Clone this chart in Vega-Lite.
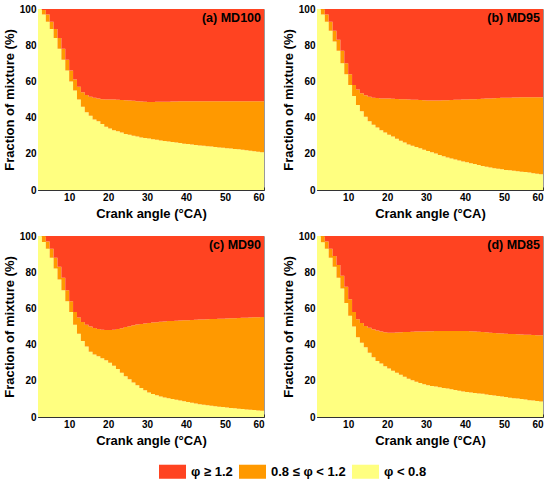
{
"$schema": "https://vega.github.io/schema/vega-lite/v6.json",
"padding": {"left": 3, "top": 3, "right": 5, "bottom": 5},
"background": "white",
"data": {"values": [
{"p":"(a) MD100","ca":2,"l":100,"m":0,"r":0},
{"p":"(a) MD100","ca":3,"l":97,"m":2.5,"r":0.5},
{"p":"(a) MD100","ca":4,"l":93,"m":4,"r":3},
{"p":"(a) MD100","ca":5,"l":89,"m":4,"r":7},
{"p":"(a) MD100","ca":6,"l":84,"m":5,"r":11},
{"p":"(a) MD100","ca":7,"l":78,"m":6,"r":16},
{"p":"(a) MD100","ca":8,"l":72,"m":6,"r":22},
{"p":"(a) MD100","ca":9,"l":66,"m":6,"r":28},
{"p":"(a) MD100","ca":10,"l":60,"m":6,"r":34},
{"p":"(a) MD100","ca":11,"l":55,"m":6,"r":39},
{"p":"(a) MD100","ca":12,"l":50,"m":7,"r":43},
{"p":"(a) MD100","ca":13,"l":46,"m":8,"r":46},
{"p":"(a) MD100","ca":14,"l":43,"m":9.5,"r":47.5},
{"p":"(a) MD100","ca":15,"l":41,"m":10.5,"r":48.5},
{"p":"(a) MD100","ca":16,"l":39,"m":12,"r":49},
{"p":"(a) MD100","ca":17,"l":38,"m":12.5,"r":49.5},
{"p":"(a) MD100","ca":18,"l":36.5,"m":13.7,"r":49.8},
{"p":"(a) MD100","ca":19,"l":35,"m":15,"r":50},
{"p":"(a) MD100","ca":20,"l":34,"m":16,"r":50},
{"p":"(a) MD100","ca":21,"l":33,"m":17,"r":50},
{"p":"(a) MD100","ca":22,"l":32.5,"m":17.3,"r":50.2},
{"p":"(a) MD100","ca":23,"l":31.8,"m":17.9,"r":50.3},
{"p":"(a) MD100","ca":24,"l":31,"m":18.6,"r":50.4},
{"p":"(a) MD100","ca":25,"l":30.5,"m":19,"r":50.5},
{"p":"(a) MD100","ca":26,"l":30,"m":19.3,"r":50.7},
{"p":"(a) MD100","ca":27,"l":29.5,"m":19.6,"r":50.9},
{"p":"(a) MD100","ca":28,"l":29,"m":19.9,"r":51.1},
{"p":"(a) MD100","ca":29,"l":28.7,"m":20,"r":51.3},
{"p":"(a) MD100","ca":30,"l":28.4,"m":20.2,"r":51.4},
{"p":"(a) MD100","ca":31,"l":28,"m":20.6,"r":51.4},
{"p":"(a) MD100","ca":32,"l":27.7,"m":21,"r":51.3},
{"p":"(a) MD100","ca":33,"l":27.4,"m":21.3,"r":51.3},
{"p":"(a) MD100","ca":34,"l":27.1,"m":21.7,"r":51.2},
{"p":"(a) MD100","ca":35,"l":26.8,"m":22,"r":51.2},
{"p":"(a) MD100","ca":36,"l":26.5,"m":22.4,"r":51.1},
{"p":"(a) MD100","ca":37,"l":26.2,"m":22.7,"r":51.1},
{"p":"(a) MD100","ca":38,"l":25.9,"m":23.1,"r":51},
{"p":"(a) MD100","ca":39,"l":25.6,"m":23.4,"r":51},
{"p":"(a) MD100","ca":40,"l":25.4,"m":23.6,"r":51},
{"p":"(a) MD100","ca":41,"l":25.1,"m":23.9,"r":51},
{"p":"(a) MD100","ca":42,"l":24.9,"m":24.1,"r":51},
{"p":"(a) MD100","ca":43,"l":24.6,"m":24.4,"r":51},
{"p":"(a) MD100","ca":44,"l":24.4,"m":24.6,"r":51},
{"p":"(a) MD100","ca":45,"l":24.2,"m":24.8,"r":51},
{"p":"(a) MD100","ca":46,"l":24,"m":25,"r":51},
{"p":"(a) MD100","ca":47,"l":23.8,"m":25.2,"r":51},
{"p":"(a) MD100","ca":48,"l":23.5,"m":25.5,"r":51},
{"p":"(a) MD100","ca":49,"l":23.3,"m":25.7,"r":51},
{"p":"(a) MD100","ca":50,"l":23.1,"m":25.9,"r":51},
{"p":"(a) MD100","ca":51,"l":22.9,"m":26.1,"r":51},
{"p":"(a) MD100","ca":52,"l":22.7,"m":26.3,"r":51},
{"p":"(a) MD100","ca":53,"l":22.5,"m":26.5,"r":51},
{"p":"(a) MD100","ca":54,"l":22.2,"m":26.8,"r":51},
{"p":"(a) MD100","ca":55,"l":22,"m":27,"r":51},
{"p":"(a) MD100","ca":56,"l":21.7,"m":27.3,"r":51},
{"p":"(a) MD100","ca":57,"l":21.4,"m":27.6,"r":51},
{"p":"(a) MD100","ca":58,"l":21.1,"m":27.9,"r":51},
{"p":"(a) MD100","ca":59,"l":20.8,"m":28.2,"r":51},
{"p":"(a) MD100","ca":60,"l":20.5,"m":28.5,"r":51},
{"p":"(b) MD95","ca":2,"l":100,"m":0,"r":0},
{"p":"(b) MD95","ca":3,"l":97,"m":3,"r":0},
{"p":"(b) MD95","ca":4,"l":93,"m":4,"r":3},
{"p":"(b) MD95","ca":5,"l":88,"m":5,"r":7},
{"p":"(b) MD95","ca":6,"l":82,"m":6,"r":12},
{"p":"(b) MD95","ca":7,"l":77,"m":6,"r":17},
{"p":"(b) MD95","ca":8,"l":70,"m":7,"r":23},
{"p":"(b) MD95","ca":9,"l":64,"m":6,"r":30},
{"p":"(b) MD95","ca":10,"l":58,"m":6,"r":36},
{"p":"(b) MD95","ca":11,"l":52,"m":6,"r":42},
{"p":"(b) MD95","ca":12,"l":47,"m":8.5,"r":44.5},
{"p":"(b) MD95","ca":13,"l":43.5,"m":10,"r":46.5},
{"p":"(b) MD95","ca":14,"l":40.5,"m":11.8,"r":47.7},
{"p":"(b) MD95","ca":15,"l":38,"m":13.5,"r":48.5},
{"p":"(b) MD95","ca":16,"l":36,"m":15,"r":49},
{"p":"(b) MD95","ca":17,"l":34.5,"m":16.3,"r":49.2},
{"p":"(b) MD95","ca":18,"l":33,"m":17.6,"r":49.4},
{"p":"(b) MD95","ca":19,"l":31.8,"m":18.7,"r":49.5},
{"p":"(b) MD95","ca":20,"l":30.5,"m":20,"r":49.5},
{"p":"(b) MD95","ca":21,"l":29.5,"m":20.9,"r":49.6},
{"p":"(b) MD95","ca":22,"l":28.3,"m":22,"r":49.7},
{"p":"(b) MD95","ca":23,"l":27.2,"m":23,"r":49.8},
{"p":"(b) MD95","ca":24,"l":26.2,"m":23.9,"r":49.9},
{"p":"(b) MD95","ca":25,"l":25.2,"m":24.8,"r":50},
{"p":"(b) MD95","ca":26,"l":24.5,"m":25.4,"r":50.1},
{"p":"(b) MD95","ca":27,"l":23.7,"m":26.1,"r":50.2},
{"p":"(b) MD95","ca":28,"l":23,"m":26.7,"r":50.3},
{"p":"(b) MD95","ca":29,"l":22.3,"m":27.3,"r":50.4},
{"p":"(b) MD95","ca":30,"l":21.5,"m":28,"r":50.5},
{"p":"(b) MD95","ca":31,"l":20.8,"m":28.7,"r":50.5},
{"p":"(b) MD95","ca":32,"l":20.1,"m":29.4,"r":50.5},
{"p":"(b) MD95","ca":33,"l":19.4,"m":30.1,"r":50.5},
{"p":"(b) MD95","ca":34,"l":18.7,"m":30.9,"r":50.4},
{"p":"(b) MD95","ca":35,"l":18,"m":31.6,"r":50.4},
{"p":"(b) MD95","ca":36,"l":17.4,"m":32.3,"r":50.3},
{"p":"(b) MD95","ca":37,"l":16.8,"m":33,"r":50.2},
{"p":"(b) MD95","ca":38,"l":16.3,"m":33.6,"r":50.1},
{"p":"(b) MD95","ca":39,"l":15.8,"m":34.2,"r":50},
{"p":"(b) MD95","ca":40,"l":15.3,"m":34.7,"r":50},
{"p":"(b) MD95","ca":41,"l":14.8,"m":35.3,"r":49.9},
{"p":"(b) MD95","ca":42,"l":14.3,"m":35.9,"r":49.8},
{"p":"(b) MD95","ca":43,"l":13.8,"m":36.5,"r":49.7},
{"p":"(b) MD95","ca":44,"l":13.3,"m":37.1,"r":49.6},
{"p":"(b) MD95","ca":45,"l":12.8,"m":37.7,"r":49.5},
{"p":"(b) MD95","ca":46,"l":12.4,"m":38.2,"r":49.4},
{"p":"(b) MD95","ca":47,"l":12,"m":38.7,"r":49.3},
{"p":"(b) MD95","ca":48,"l":11.7,"m":39.1,"r":49.2},
{"p":"(b) MD95","ca":49,"l":11.4,"m":39.5,"r":49.1},
{"p":"(b) MD95","ca":50,"l":11.1,"m":39.9,"r":49},
{"p":"(b) MD95","ca":51,"l":10.9,"m":40.1,"r":49},
{"p":"(b) MD95","ca":52,"l":10.6,"m":40.5,"r":48.9},
{"p":"(b) MD95","ca":53,"l":10.4,"m":40.7,"r":48.9},
{"p":"(b) MD95","ca":54,"l":10.1,"m":41.1,"r":48.8},
{"p":"(b) MD95","ca":55,"l":9.9,"m":41.3,"r":48.8},
{"p":"(b) MD95","ca":56,"l":9.6,"m":41.6,"r":48.8},
{"p":"(b) MD95","ca":57,"l":9.3,"m":42,"r":48.7},
{"p":"(b) MD95","ca":58,"l":9,"m":42.3,"r":48.7},
{"p":"(b) MD95","ca":59,"l":8.7,"m":42.6,"r":48.7},
{"p":"(b) MD95","ca":60,"l":8.4,"m":42.9,"r":48.7},
{"p":"(c) MD90","ca":2,"l":100,"m":0,"r":0},
{"p":"(c) MD90","ca":3,"l":96.7,"m":3.3,"r":0},
{"p":"(c) MD90","ca":4,"l":93,"m":4,"r":3},
{"p":"(c) MD90","ca":5,"l":88,"m":5,"r":7},
{"p":"(c) MD90","ca":6,"l":82,"m":6,"r":12},
{"p":"(c) MD90","ca":7,"l":76,"m":7,"r":17},
{"p":"(c) MD90","ca":8,"l":70,"m":7,"r":23},
{"p":"(c) MD90","ca":9,"l":64,"m":6,"r":30},
{"p":"(c) MD90","ca":10,"l":58,"m":6,"r":36},
{"p":"(c) MD90","ca":11,"l":51,"m":7,"r":42},
{"p":"(c) MD90","ca":12,"l":46,"m":9,"r":45},
{"p":"(c) MD90","ca":13,"l":42,"m":10.5,"r":47.5},
{"p":"(c) MD90","ca":14,"l":39,"m":12,"r":49},
{"p":"(c) MD90","ca":15,"l":36,"m":14,"r":50},
{"p":"(c) MD90","ca":16,"l":34.5,"m":14.7,"r":50.8},
{"p":"(c) MD90","ca":17,"l":33.5,"m":15.1,"r":51.4},
{"p":"(c) MD90","ca":18,"l":32.5,"m":15.7,"r":51.8},
{"p":"(c) MD90","ca":19,"l":31.3,"m":16.7,"r":52},
{"p":"(c) MD90","ca":20,"l":30,"m":18,"r":52},
{"p":"(c) MD90","ca":21,"l":28.3,"m":19.9,"r":51.8},
{"p":"(c) MD90","ca":22,"l":26.5,"m":22.1,"r":51.4},
{"p":"(c) MD90","ca":23,"l":24.5,"m":24.6,"r":50.9},
{"p":"(c) MD90","ca":24,"l":22.5,"m":27.2,"r":50.3},
{"p":"(c) MD90","ca":25,"l":20.8,"m":29.4,"r":49.8},
{"p":"(c) MD90","ca":26,"l":19,"m":31.7,"r":49.3},
{"p":"(c) MD90","ca":27,"l":17.5,"m":33.6,"r":48.9},
{"p":"(c) MD90","ca":28,"l":16,"m":35.4,"r":48.6},
{"p":"(c) MD90","ca":29,"l":14.8,"m":36.9,"r":48.3},
{"p":"(c) MD90","ca":30,"l":13.5,"m":38.5,"r":48},
{"p":"(c) MD90","ca":31,"l":12.7,"m":39.5,"r":47.8},
{"p":"(c) MD90","ca":32,"l":12,"m":40.4,"r":47.6},
{"p":"(c) MD90","ca":33,"l":11.3,"m":41.3,"r":47.4},
{"p":"(c) MD90","ca":34,"l":10.8,"m":42,"r":47.2},
{"p":"(c) MD90","ca":35,"l":10.3,"m":42.7,"r":47},
{"p":"(c) MD90","ca":36,"l":9.9,"m":43.2,"r":46.9},
{"p":"(c) MD90","ca":37,"l":9.5,"m":43.7,"r":46.8},
{"p":"(c) MD90","ca":38,"l":9.1,"m":44.2,"r":46.7},
{"p":"(c) MD90","ca":39,"l":8.7,"m":44.7,"r":46.6},
{"p":"(c) MD90","ca":40,"l":8.3,"m":45.2,"r":46.5},
{"p":"(c) MD90","ca":41,"l":7.9,"m":45.7,"r":46.4},
{"p":"(c) MD90","ca":42,"l":7.5,"m":46.2,"r":46.3},
{"p":"(c) MD90","ca":43,"l":7.1,"m":46.7,"r":46.2},
{"p":"(c) MD90","ca":44,"l":6.8,"m":47.1,"r":46.1},
{"p":"(c) MD90","ca":45,"l":6.5,"m":47.5,"r":46},
{"p":"(c) MD90","ca":46,"l":6.2,"m":47.9,"r":45.9},
{"p":"(c) MD90","ca":47,"l":5.9,"m":48.3,"r":45.8},
{"p":"(c) MD90","ca":48,"l":5.7,"m":48.6,"r":45.7},
{"p":"(c) MD90","ca":49,"l":5.5,"m":48.8,"r":45.7},
{"p":"(c) MD90","ca":50,"l":5.2,"m":49.2,"r":45.6},
{"p":"(c) MD90","ca":51,"l":5,"m":49.5,"r":45.5},
{"p":"(c) MD90","ca":52,"l":4.8,"m":49.8,"r":45.4},
{"p":"(c) MD90","ca":53,"l":4.6,"m":50.1,"r":45.3},
{"p":"(c) MD90","ca":54,"l":4.4,"m":50.4,"r":45.2},
{"p":"(c) MD90","ca":55,"l":4.2,"m":50.7,"r":45.1},
{"p":"(c) MD90","ca":56,"l":4,"m":51,"r":45},
{"p":"(c) MD90","ca":57,"l":3.8,"m":51.3,"r":44.9},
{"p":"(c) MD90","ca":58,"l":3.6,"m":51.5,"r":44.9},
{"p":"(c) MD90","ca":59,"l":3.4,"m":51.8,"r":44.8},
{"p":"(c) MD90","ca":60,"l":3.3,"m":51.9,"r":44.8},
{"p":"(d) MD85","ca":2,"l":100,"m":0,"r":0},
{"p":"(d) MD85","ca":3,"l":96.5,"m":3.5,"r":0},
{"p":"(d) MD85","ca":4,"l":93,"m":4,"r":3},
{"p":"(d) MD85","ca":5,"l":88,"m":5,"r":7},
{"p":"(d) MD85","ca":6,"l":83,"m":6,"r":11},
{"p":"(d) MD85","ca":7,"l":77,"m":7,"r":16},
{"p":"(d) MD85","ca":8,"l":71,"m":7,"r":22},
{"p":"(d) MD85","ca":9,"l":63,"m":9,"r":28},
{"p":"(d) MD85","ca":10,"l":56,"m":9,"r":35},
{"p":"(d) MD85","ca":11,"l":50,"m":8,"r":42},
{"p":"(d) MD85","ca":12,"l":44,"m":10,"r":46},
{"p":"(d) MD85","ca":13,"l":41,"m":11,"r":48},
{"p":"(d) MD85","ca":14,"l":38.5,"m":11.8,"r":49.7},
{"p":"(d) MD85","ca":15,"l":35.5,"m":13.8,"r":50.7},
{"p":"(d) MD85","ca":16,"l":33,"m":15.5,"r":51.5},
{"p":"(d) MD85","ca":17,"l":31,"m":16.8,"r":52.2},
{"p":"(d) MD85","ca":18,"l":29.5,"m":17.7,"r":52.8},
{"p":"(d) MD85","ca":19,"l":28,"m":18.8,"r":53.2},
{"p":"(d) MD85","ca":20,"l":26.8,"m":19.7,"r":53.5},
{"p":"(d) MD85","ca":21,"l":25.6,"m":21,"r":53.4},
{"p":"(d) MD85","ca":22,"l":24.5,"m":22.2,"r":53.3},
{"p":"(d) MD85","ca":23,"l":23.3,"m":23.5,"r":53.2},
{"p":"(d) MD85","ca":24,"l":22.2,"m":24.7,"r":53.1},
{"p":"(d) MD85","ca":25,"l":21.2,"m":25.8,"r":53},
{"p":"(d) MD85","ca":26,"l":20.3,"m":26.8,"r":52.9},
{"p":"(d) MD85","ca":27,"l":19.5,"m":27.7,"r":52.8},
{"p":"(d) MD85","ca":28,"l":18.8,"m":28.5,"r":52.7},
{"p":"(d) MD85","ca":29,"l":18.1,"m":29.2,"r":52.7},
{"p":"(d) MD85","ca":30,"l":17.5,"m":29.9,"r":52.6},
{"p":"(d) MD85","ca":31,"l":17.1,"m":30.3,"r":52.6},
{"p":"(d) MD85","ca":32,"l":16.8,"m":30.7,"r":52.5},
{"p":"(d) MD85","ca":33,"l":16.4,"m":31.1,"r":52.5},
{"p":"(d) MD85","ca":34,"l":16,"m":31.5,"r":52.5},
{"p":"(d) MD85","ca":35,"l":15.7,"m":31.8,"r":52.5},
{"p":"(d) MD85","ca":36,"l":15.3,"m":32.2,"r":52.5},
{"p":"(d) MD85","ca":37,"l":14.9,"m":32.6,"r":52.5},
{"p":"(d) MD85","ca":38,"l":14.5,"m":33,"r":52.5},
{"p":"(d) MD85","ca":39,"l":14.1,"m":33.4,"r":52.5},
{"p":"(d) MD85","ca":40,"l":13.8,"m":33.7,"r":52.5},
{"p":"(d) MD85","ca":41,"l":13.5,"m":33.9,"r":52.6},
{"p":"(d) MD85","ca":42,"l":13.3,"m":34,"r":52.7},
{"p":"(d) MD85","ca":43,"l":13,"m":34.1,"r":52.9},
{"p":"(d) MD85","ca":44,"l":12.8,"m":34.1,"r":53.1},
{"p":"(d) MD85","ca":45,"l":12.5,"m":34.3,"r":53.2},
{"p":"(d) MD85","ca":46,"l":12.2,"m":34.4,"r":53.4},
{"p":"(d) MD85","ca":47,"l":11.9,"m":34.5,"r":53.6},
{"p":"(d) MD85","ca":48,"l":11.6,"m":34.7,"r":53.7},
{"p":"(d) MD85","ca":49,"l":11.3,"m":34.8,"r":53.9},
{"p":"(d) MD85","ca":50,"l":11,"m":35,"r":54},
{"p":"(d) MD85","ca":51,"l":10.7,"m":35.2,"r":54.1},
{"p":"(d) MD85","ca":52,"l":10.4,"m":35.4,"r":54.2},
{"p":"(d) MD85","ca":53,"l":10.2,"m":35.5,"r":54.3},
{"p":"(d) MD85","ca":54,"l":9.9,"m":35.7,"r":54.4},
{"p":"(d) MD85","ca":55,"l":9.6,"m":35.9,"r":54.5},
{"p":"(d) MD85","ca":56,"l":9.3,"m":36.1,"r":54.6},
{"p":"(d) MD85","ca":57,"l":9.1,"m":36.2,"r":54.7},
{"p":"(d) MD85","ca":58,"l":8.8,"m":36.4,"r":54.8},
{"p":"(d) MD85","ca":59,"l":8.5,"m":36.6,"r":54.9},
{"p":"(d) MD85","ca":60,"l":8.3,"m":36.7,"r":55}
]},
"columns": 2,
"spacing": {"row": 9, "column": 17},
"concat": [
 {"width": 226, "height": 181, "transform": [{"filter": "datum.p == '(a) MD100'"}, {"fold": ["l", "m", "r"], "as": ["k", "v"]}],
  "title": {"text": "(a) MD100"},
  "mark": {"type": "area", "interpolate": "step-after"},
  "encoding": {
   "x": {"field": "ca", "type": "quantitative", "scale": {"domain": [2, 60], "nice": false, "zero": false},
         "axis": {"title": "Crank angle (°CA)", "values": [10,20,30,40,50,60]}},
   "y": {"field": "v", "type": "quantitative", "stack": "zero", "scale": {"domain": [0, 100], "nice": false},
         "axis": {"title": "Fraction of mixture (%)", "values": [0,20,40,60,80,100]}},
   "color": {"field": "k", "type": "nominal", "scale": {"domain": ["r", "m", "l"], "range": ["#FF4321", "#FF9900", "#FFFF80"]},
             "legend": {"orient": "none", "legendX": 121, "legendY": 449, "direction": "horizontal", "title": null,
                        "symbolType": "M-1,-0.52H1V0.52H-1Z", "symbolSize": 729, "symbolStrokeWidth": 0, "symbolOpacity": 1,
                        "labelFontSize": 13, "labelFontWeight": "bold", "labelFont": "Liberation Sans", "labelColor": "#000",
                        "labelOffset": 5, "columnPadding": 6,
                        "labelExpr": "datum.label == 'r' ? 'φ ≥ 1.2' : (datum.label == 'm' ? '0.8 ≤ φ < 1.2' : 'φ < 0.8')"}},
   "order": {"field": "k", "sort": "ascending"}}},
 {"width": 226, "height": 181, "transform": [{"filter": "datum.p == '(b) MD95'"}, {"fold": ["l", "m", "r"], "as": ["k", "v"]}],
  "title": {"text": "(b) MD95"},
  "mark": {"type": "area", "interpolate": "step-after"},
  "encoding": {
   "x": {"field": "ca", "type": "quantitative", "scale": {"domain": [2, 60], "nice": false, "zero": false},
         "axis": {"title": "Crank angle (°CA)", "values": [10,20,30,40,50,60]}},
   "y": {"field": "v", "type": "quantitative", "stack": "zero", "scale": {"domain": [0, 100], "nice": false},
         "axis": {"title": "Fraction of mixture (%)", "values": [0,20,40,60,80,100]}},
   "color": {"field": "k", "type": "nominal", "scale": {"domain": ["r", "m", "l"], "range": ["#FF4321", "#FF9900", "#FFFF80"]}},
   "order": {"field": "k", "sort": "ascending"}}},
 {"width": 226, "height": 181, "transform": [{"filter": "datum.p == '(c) MD90'"}, {"fold": ["l", "m", "r"], "as": ["k", "v"]}],
  "title": {"text": "(c) MD90"},
  "mark": {"type": "area", "interpolate": "step-after"},
  "encoding": {
   "x": {"field": "ca", "type": "quantitative", "scale": {"domain": [2, 60], "nice": false, "zero": false},
         "axis": {"title": "Crank angle (°CA)", "values": [10,20,30,40,50,60]}},
   "y": {"field": "v", "type": "quantitative", "stack": "zero", "scale": {"domain": [0, 100], "nice": false},
         "axis": {"title": "Fraction of mixture (%)", "values": [0,20,40,60,80,100]}},
   "color": {"field": "k", "type": "nominal", "scale": {"domain": ["r", "m", "l"], "range": ["#FF4321", "#FF9900", "#FFFF80"]}},
   "order": {"field": "k", "sort": "ascending"}}},
 {"width": 226, "height": 181, "transform": [{"filter": "datum.p == '(d) MD85'"}, {"fold": ["l", "m", "r"], "as": ["k", "v"]}],
  "title": {"text": "(d) MD85"},
  "mark": {"type": "area", "interpolate": "step-after"},
  "encoding": {
   "x": {"field": "ca", "type": "quantitative", "scale": {"domain": [2, 60], "nice": false, "zero": false},
         "axis": {"title": "Crank angle (°CA)", "values": [10,20,30,40,50,60]}},
   "y": {"field": "v", "type": "quantitative", "stack": "zero", "scale": {"domain": [0, 100], "nice": false},
         "axis": {"title": "Fraction of mixture (%)", "values": [0,20,40,60,80,100]}},
   "color": {"field": "k", "type": "nominal", "scale": {"domain": ["r", "m", "l"], "range": ["#FF4321", "#FF9900", "#FFFF80"]}},
   "order": {"field": "k", "sort": "ascending"}}}
],
"config": {
  "font": "Liberation Sans",
  "view": {"stroke": "#999", "strokeWidth": 1},
  "title": {"anchor": "end", "frame": "group", "orient": "top", "offset": -20, "dx": -3, "fontSize": 12.5, "fontWeight": "bold", "color": "#000", "font": "Liberation Sans"},
  "axis": {"grid": false, "labelFont": "Liberation Sans", "labelFontSize": 10, "labelFontWeight": "bold", "labelOverlap": false,
           "labelColor": "#000", "titleFont": "Liberation Sans", "titleFontSize": 13, "titleFontWeight": "bold",
           "titleColor": "#000", "tickSize": -3, "labelPadding": 5, "tickColor": "#333",
           "domainColor": "#333", "titlePadding": 2.5},
  "axisX": {"titlePadding": 5}
}
}
